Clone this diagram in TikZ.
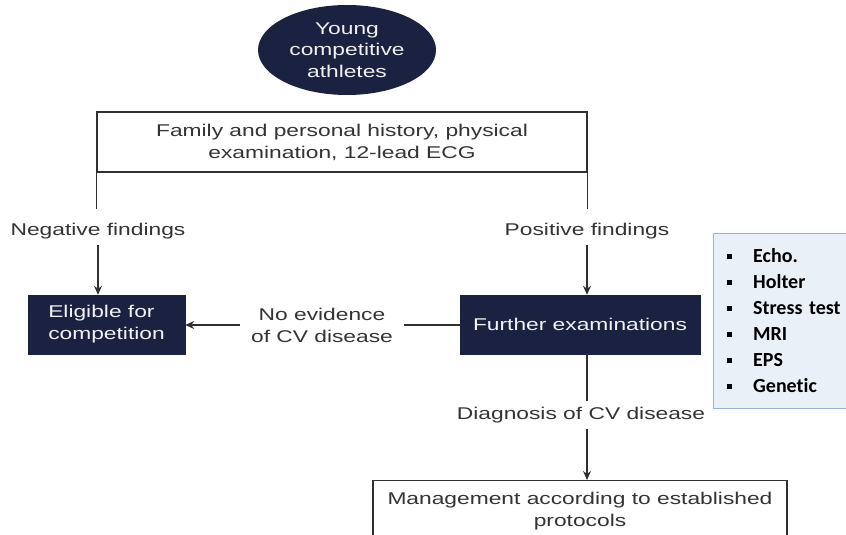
\documentclass[tikz,border=0pt]{standalone}
\usepackage{fontspec}
\newfontfamily\diagfont[FakeStretch=1.34]{Liberation Sans}
\newfontfamily\listfont[Ligatures=NoCommon]{Carlito}
\usetikzlibrary{positioning,shapes.geometric,arrows.meta}
\definecolor{navy}{HTML}{1B2140}
\definecolor{linegray}{HTML}{303030}
\definecolor{listfill}{HTML}{EAF0F8}
\definecolor{listline}{HTML}{95B3D7}
\newcommand{\testitem}[1]{\makebox[26pt][l]{\rule[4pt]{5pt}{5pt}}#1}

\begin{document}
\begin{tikzpicture}[x=1pt,y=-1pt,
 darkbox/.style = {
        draw=navy, fill=navy, rectangle, text=white!90!gray,
        font=\diagfont\fontsize{17}{22}\selectfont,
        minimum height=59pt, inner sep=0pt},
plainbox/.style = {
        draw=linegray, line width=1.3pt, rectangle, align=center,
        text=black!80, font=\diagfont\fontsize{17}{22}\selectfont,
        minimum height=60pt, inner sep=0pt},
 mylabel/.style = {
        align=center, text=black!80,
        font=\diagfont\fontsize{17}{22}\selectfont, inner sep=6pt},
   line/.style = {draw=linegray, line width=1.3pt},
  arrow/.style = {line, -{Stealth[length=9pt,width=8pt]}}
                    ]
\useasboundingbox (0,0) rectangle (846,535);
% the athletes at the top
\node (athletes) [ellipse, fill=navy, text=white!88!gray, align=center,
        font=\diagfont\fontsize{17}{21.5}\selectfont,
        minimum width=178pt, minimum height=90pt, inner sep=0pt]
        at (347,50) {Young\\competitive\\athletes};
\node (history) [plainbox, minimum width=490pt] at (342,142)
        {Family and personal history, physical\\
         examination, 12-lead ECG};
% the two findings
\node (neg) [mylabel] at (98,231) {Negative findings};
\node (pos) [mylabel] at (587,231) {Positive findings};
\draw[line] (history.south west) -- ++(0,36);
\draw[line] (history.south east) -- ++(0,36);
% the row in the middle
\node (eligible) [darkbox, align=left, minimum width=157pt] at (106.5,324.5)
        {Eligible for\\competition};
\node (further) [darkbox, minimum width=240pt] at (580,324.5)
        {Further examinations};
\node (noevid) [mylabel, inner xsep=11pt] at (322,325)
        {No evidence\\of CV disease};
\draw[arrow] (neg.south) -- (neg.south |- eligible.north);
\draw[arrow] (pos.south) -- (pos.south |- further.north);
\draw[line] (noevid.east) -- (noevid.east -| further.west);
\draw[arrow] (noevid.west) -- (noevid.west -| eligible.east);
% the tests beside
\node (tests) [draw=listline, fill=listfill, rectangle, anchor=north west,
        align=left, font=\listfont\bfseries\fontsize{20}{26}\selectfont,
        minimum height=175pt,
        inner xsep=14pt, inner ysep=0pt, text width=120pt] at (713,233)
        {\testitem{Echo.}\\ \testitem{Holter}\\ \testitem{Stress test}\\
         \testitem{MRI}\\ \testitem{EPS}\\ \testitem{Genetic}};
% the branch below
\node (diag) [mylabel] at (581,415) {Diagnosis of CV disease};
\node (mgmt) [plainbox, anchor=north, minimum width=414pt] at (580,480)
        {Management according to established\\protocols};
\draw[line] (pos |- further.south) -- (pos |- diag.north);
\draw[arrow] (pos |- diag.south) -- (pos |- mgmt.north);
\end{tikzpicture}
\end{document}
